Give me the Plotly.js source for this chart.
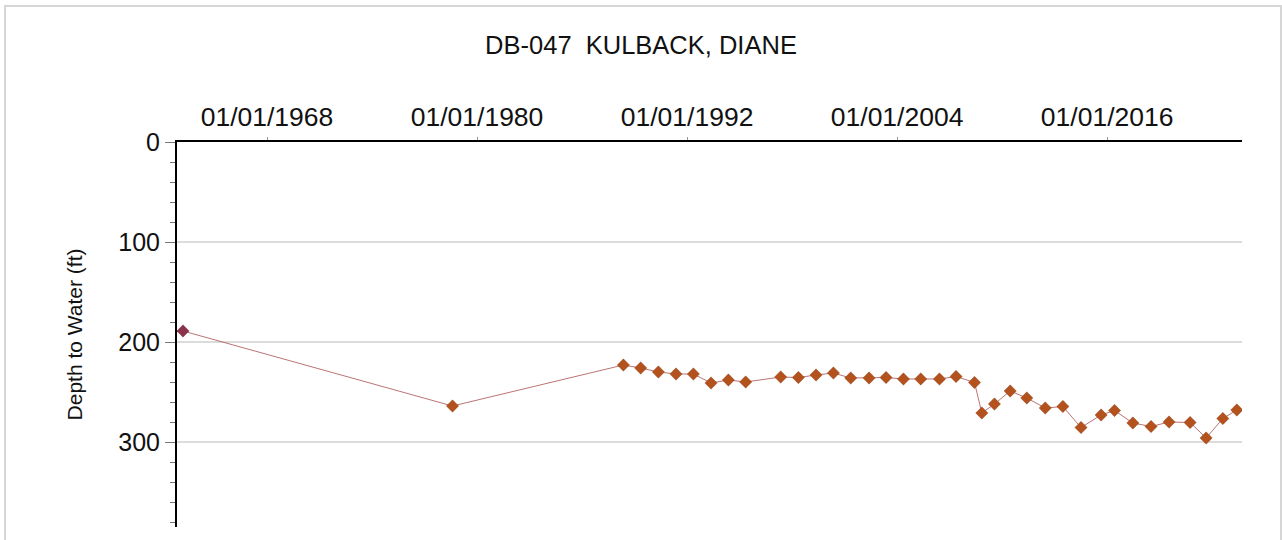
<!DOCTYPE html>
<html>
<head>
<meta charset="utf-8">
<script src="https://cdn.plot.ly/plotly-3.0.1.min.js"></script>
<style>
  html, body { margin: 0; padding: 0; background: #ffffff; }
  #chart { width: 1282px; height: 540px; }
  #frame { position: absolute; left: 4px; top: 5px; width: 1274px; height: 540px;
           border-top: 2px solid #d6d6d6; border-left: 2px solid #d6d6d6; border-right: 2px solid #d6d6d6;
           pointer-events: none; }
</style>
</head>
<body>
<div id="chart"></div>
<div id="frame"></div>
<script>
// Measurement dates
const dates = [
  '1963-03-15', '1978-08-07',
  '1988-05-12', '1989-05-08', '1990-05-12', '1991-05-15', '1992-05-12',
  '1993-05-15', '1994-05-12', '1995-05-08', '1997-05-08', '1998-05-12',
  '1999-05-15', '2000-05-12', '2001-05-08', '2002-05-26', '2003-05-15',
  '2004-05-12', '2005-05-08', '2006-06-03', '2007-05-15', '2008-06-03',
  '2008-11-03', '2009-07-24', '2010-06-18', '2011-05-30', '2012-06-18',
  '2013-06-21', '2014-07-05', '2015-08-28', '2016-06-03', '2017-06-21',
  '2018-07-05', '2019-07-16', '2020-09-27', '2021-08-28', '2022-08-11',
  '2023-05-30'
];
// Depth to water (ft)
const depths = [
  189, 264,
  223, 226, 230, 232, 232,
  241, 238, 240, 235, 235.5,
  233, 231, 236, 236, 235.5,
  237, 237, 237, 234.5, 240.5,
  271, 262, 249, 256, 266,
  264.5, 285.5, 273, 268.5, 281,
  284.5, 280, 280.5, 296, 276.5,
  268
];
const xTickVals = ['1968-01-01', '1980-01-01', '1992-01-01', '2004-01-01', '2016-01-01'];
const xTickText = ['01/01/1968', '01/01/1980', '01/01/1992', '01/01/2004', '01/01/2016'];
const yTickVals = [0, 100, 200, 300];
const titleText = 'DB-047\u00a0 KULBACK, DIANE';
const yTitle = 'Depth to Water (ft)';

const markerColors = depths.map((d, i) => i === 0 ? '#8c3050' : '#b4521e');

const trace = {
  x: dates, y: depths, type: 'scatter', mode: 'lines+markers',
  line: { color: 'rgba(175,90,90,0.85)', width: 1 },
  marker: { symbol: 'diamond', size: 9.5, color: markerColors,
            line: { color: 'rgba(120,50,20,0.6)', width: 0.5 } },
  hoverinfo: 'x+y'
};

const font = { family: 'Liberation Sans, Arial, sans-serif', color: '#111111' };

const layout = {
  width: 1282, height: 540,
  margin: { l: 177, r: 40, t: 142, b: 13 },
  paper_bgcolor: '#ffffff', plot_bgcolor: '#ffffff',
  showlegend: false,
  font: font,
  title: { text: titleText, x: 0.5, xref: 'container', xanchor: 'center',
           y: 1 - 45/540, yref: 'container', yanchor: 'middle',
           font: { family: font.family, size: 25.5, color: '#111111' } },
  xaxis: {
    type: 'date', side: 'top',
    range: ['1962-11-10', '2023-09-15'],
    tickmode: 'array', tickvals: xTickVals, ticktext: xTickText,
    ticks: 'outside', ticklen: 3, tickwidth: 1, tickcolor: '#999999',
    showline: true, linecolor: '#000000', linewidth: 2,
    showgrid: false, zeroline: false,
    tickfont: { family: font.family, size: 26.5, color: '#111111' }
  },
  yaxis: {
    range: [385, 0],
    tickmode: 'array', tickvals: yTickVals,
    ticks: 'outside', ticklen: 10, tickwidth: 1, tickcolor: '#777777',
    minor: { dtick: 20, tick0: 0, ticks: 'outside', ticklen: 5, tickcolor: '#777777', showgrid: false },
    showline: true, linecolor: '#000000', linewidth: 2,
    showgrid: true, gridcolor: '#dcdcdc', gridwidth: 2,
    zeroline: false,
    tickfont: { family: font.family, size: 25, color: '#111111' },
    title: { text: yTitle, standoff: 30, font: { family: font.family, size: 21, color: '#111111' } }
  }
};

Plotly.newPlot('chart', [trace], layout, { displayModeBar: false, staticPlot: true });
</script>
</body>
</html>
